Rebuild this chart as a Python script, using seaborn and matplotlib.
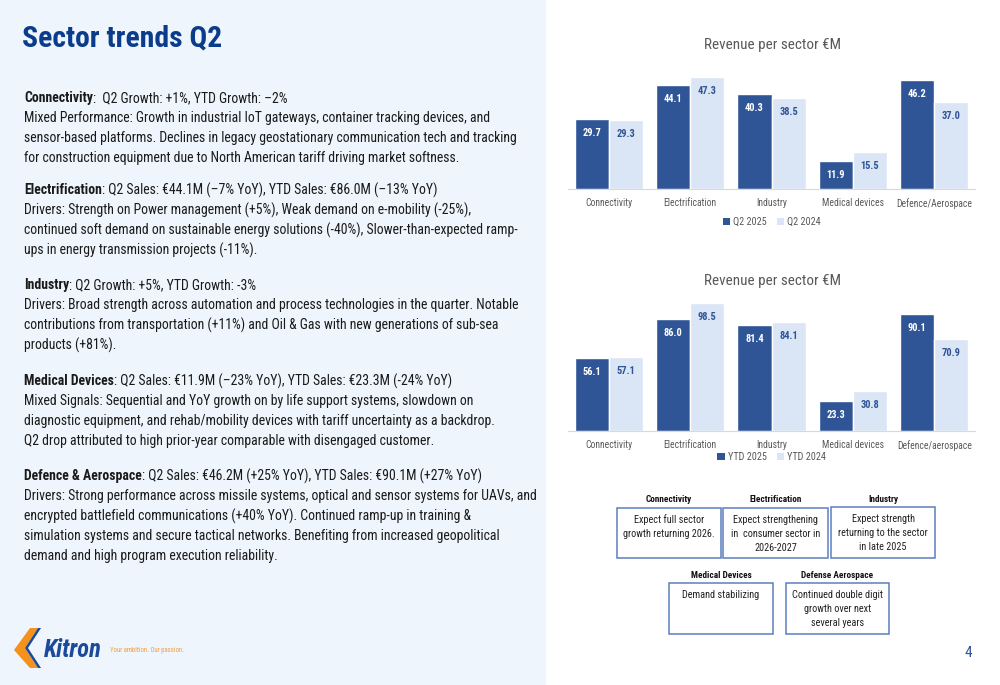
import matplotlib
matplotlib.use("Agg")
import matplotlib.pyplot as plt
import seaborn as sns
import pandas as pd
from matplotlib.patches import Rectangle, Polygon
from matplotlib import font_manager

# ---------------- data ----------------
sectors_q2 = ["Connectivity", "Electrification", "Industry", "Medical devices", "Defence/Aerospace"]
q2_2025 = [29.7, 44.1, 40.3, 11.9, 46.2]
q2_2024 = [29.3, 47.3, 38.5, 15.5, 37.0]
q2_series = ["Q2 2025", "Q2 2024"]

sectors_ytd = ["Connectivity", "Electrification", "Industry", "Medical devices", "Defence/aerospace"]
ytd_2025 = [56.1, 86.0, 81.4, 23.3, 90.1]
ytd_2024 = [57.1, 98.5, 84.1, 30.8, 70.9]
ytd_series = ["YTD 2025", "YTD 2024"]

chart_title = "Revenue per sector €M"
page_title = "Sector trends Q2"

paragraphs = [
    ("Connectivity", ":  Q2 Growth: +1%, YTD Growth: –2%", [
        "Mixed Performance: Growth in industrial IoT gateways, container tracking devices, and",
        "sensor-based platforms. Declines in legacy geostationary communication tech and tracking",
        "for construction equipment due to North American tariff driving market softness."]),
    ("Electrification", ": Q2 Sales: €44.1M (–7% YoY), YTD Sales: €86.0M (–13% YoY)", [
        "Drivers: Strength on Power management (+5%), Weak demand on e-mobility (-25%),",
        "continued soft demand on sustainable energy solutions (-40%), Slower-than-expected ramp-",
        "ups in energy transmission projects (-11%)."]),
    ("Industry", ": Q2 Growth: +5%, YTD Growth: -3%", [
        "Drivers: Broad strength across automation and process technologies in the quarter. Notable",
        "contributions from transportation (+11%) and Oil & Gas with new generations of sub-sea",
        "products (+81%)."]),
    ("Medical Devices", ": Q2 Sales: €11.9M (–23% YoY), YTD Sales: €23.3M (-24% YoY)", [
        "Mixed Signals: Sequential and YoY growth on by life support systems, slowdown on",
        "diagnostic equipment, and rehab/mobility devices with tariff uncertainty as a backdrop.",
        "Q2 drop attributed to high prior-year comparable with disengaged customer."]),
    ("Defence & Aerospace", ": Q2 Sales: €46.2M (+25% YoY), YTD Sales: €90.1M (+27% YoY)", [
        "Drivers: Strong performance across missile systems, optical and sensor systems for UAVs, and",
        "encrypted battlefield communications (+40% YoY). Continued ramp-up in training &",
        "simulation systems and secure tactical networks. Benefiting from increased geopolitical",
        "demand and high program execution reliability."]),
]
para_y = [98, 190, 285, 381, 476]

outlook_heads = ["Connectivity", "Electrification", "Industry", "Medical Devices", "Defense Aerospace"]
outlook_texts = [
    ["Expect full sector", "growth returning 2026."],
    ["Expect strengthening", "in  consumer sector in", "2026-2027"],
    ["Expect strength", "returning to the sector", "in late 2025"],
    ["Demand stabilizing"],
    ["Continued double digit", "growth over next", "several years"],
]

# ---------------- style ----------------
sns.set_style("white")
avail = {f.name for f in font_manager.fontManager.ttflist}
BODY = "DejaVu Sans"
for cand in ["Liberation Sans Narrow", "Roboto Condensed", "Open Sans Condensed", "Lato", "Roboto"]:
    if cand in avail:
        BODY = cand
        break
plt.rcParams["font.family"] = [BODY, "DejaVu Sans"]

DARK = "#2F5597"
LIGHT = "#DAE6F5"
GRAY = "#595959"
TITLE_BLUE = "#0B3C8C"

W, H = 1000, 685
fig = plt.figure(figsize=(10, 6.85), dpi=100)
renderer = fig.canvas.get_renderer()


def fx(x):
    return x / W


def fy(y):
    return 1 - y / H


def fit(text, target, weight="normal", style="normal", ref=10):
    t = fig.text(0, 0, text, fontsize=ref, fontweight=weight, fontstyle=style)
    w = t.get_window_extent(renderer).width
    t.remove()
    return ref * target / w


# background panels
fig.patches.append(Rectangle((0, 0), fx(546), 1, transform=fig.transFigure,
                             facecolor="#EEF5FC", edgecolor="none", zorder=0))

# ---------------- left text ----------------
fig.text(fx(22), fy(38), page_title, fontsize=fit(page_title, 200, "bold"),
         fontweight="bold", color=TITLE_BLUE, va="center", ha="left")

fs_body = fit("Drivers: Strong performance across missile systems, optical and sensor systems for UAVs, and", 511)
TXT = "#1A1A1A"
for (head, rest, lines), y0 in zip(paragraphs, para_y):
    t = fig.text(fx(24), fy(y0), head, fontsize=fs_body, fontweight="bold", color=TXT,
                 va="center", ha="left")
    bb = t.get_window_extent(renderer)
    fig.text(bb.x1 / W, fy(y0), rest, fontsize=fs_body, color=TXT, va="center", ha="left")
    for i, ln in enumerate(lines):
        fig.text(fx(24), fy(y0 + 20 * (i + 1)), ln, fontsize=fs_body, color=TXT,
                 va="center", ha="left")

# ---------------- charts ----------------
fs_tick = fit("Defence/Aerospace", 75)
fs_title = fit(chart_title, 136)
fs_lab = fit("47.3", 19, "bold")
fs_leg = fit("Q2 2025", 33)


def bar_chart(top, base, ymax, sectors, s1, s2, names, leg_y):
    ax = fig.add_axes([fx(568), fy(base), (975 - 568) / W, (base - top) / H])
    df = pd.DataFrame({"sector": sectors * 2, "value": s1 + s2,
                       "series": [names[0]] * len(s1) + [names[1]] * len(s2)})
    sns.barplot(data=df, x="sector", y="value", hue="series", palette=[DARK, LIGHT],
                saturation=1, width=0.84, edgecolor="white", linewidth=1.0,
                errorbar=None, ax=ax)
    ax.set_ylim(0, ymax)
    ax.set_xlim(-0.5, len(sectors) - 0.5)
    ax.set_xlabel("")
    ax.set_ylabel("")
    ax.set_yticks([])
    for s in ["top", "right", "left"]:
        ax.spines[s].set_visible(False)
    ax.spines["bottom"].set_color("#D9D9D9")
    ax.spines["bottom"].set_zorder(5)
    ax.tick_params(axis="x", length=0, pad=6.5, labelsize=fs_tick, labelcolor=GRAY)
    ax.set_facecolor("none")
    for cont, col in zip(ax.containers, ["white", DARK]):
        for bar in cont:
            h = bar.get_height()
            ax.annotate(f"{h:.1f}", (bar.get_x() + bar.get_width() / 2, h),
                        xytext=(0, -10), textcoords="offset points", ha="center",
                        va="center", fontsize=fs_lab, fontweight="bold", color=col)
    leg = ax.legend(loc="center", bbox_to_anchor=(0.5, (base - leg_y) / (base - top)),
                    ncol=2, frameon=False, fontsize=fs_leg, handlelength=0.7,
                    handleheight=0.7, handletextpad=0.3, columnspacing=1.0,
                    labelcolor=GRAY)
    for hnd in leg.legend_handles:
        hnd.set_edgecolor("none")
    return ax


bar_chart(71, 189, 50, sectors_q2, q2_2025, q2_2024, q2_series, 222)
fig.text(fx(772), fy(45), chart_title, fontsize=fs_title, color=GRAY, ha="center", va="center")

bar_chart(301, 431, 100, sectors_ytd, ytd_2025, ytd_2024, ytd_series, 457)
fig.text(fx(772), fy(281), chart_title, fontsize=fs_title, color=GRAY, ha="center", va="center")

# ---------------- outlook boxes ----------------
box_px = [(617, 508, 721, 558), (723, 508, 828, 558), (831, 507, 935, 558),
          (669, 583, 773, 634), (786, 583, 889, 634)]
fs_head = fit("Electrification", 52, "bold")
fs_box = fit("growth returning 2026.", 91)
for head, lines, (x0, y0, x1, y1) in zip(outlook_heads, outlook_texts, box_px):
    fig.patches.append(Rectangle((fx(x0), fy(y1)), (x1 - x0) / W, (y1 - y0) / H,
                                 transform=fig.transFigure, facecolor="white",
                                 edgecolor="#5B7FBE", linewidth=1.1, zorder=2))
    cx = (x0 + x1) / 2
    fig.text(fx(cx), fy(y0 - 8), head, fontsize=fs_head, fontweight="bold",
             color="#111111", ha="center", va="center")
    for i, ln in enumerate(lines):
        fig.text(fx(cx), fy(y0 + 12 + 14 * i), ln, fontsize=fs_box, color="#222222",
                 ha="center", va="center", zorder=3)

# ---------------- footer ----------------
orange = Polygon([(fx(30), fy(628)), (fx(38), fy(628)), (fx(25), fy(648)),
                  (fx(38), fy(668)), (fx(30), fy(668)), (fx(14), fy(650))],
                 closed=True, transform=fig.transFigure, facecolor="#F5921E",
                 edgecolor="none", zorder=3)
blue = Polygon([(fx(38), fy(628)), (fx(41), fy(628)), (fx(28), fy(648)),
                (fx(41), fy(668)), (fx(38), fy(668)), (fx(25), fy(648))],
               closed=True, transform=fig.transFigure, facecolor="#1B4A9A",
               edgecolor="none", zorder=3)
fig.patches.extend([orange, blue])
fig.text(fx(44), fy(650), "Kitron", fontsize=fit("Kitron", 58, "bold", "italic"),
         fontweight="bold", fontstyle="italic", color="#1B4A9A", ha="left", va="center")
fig.text(fx(110), fy(651), "Your ambition. Our passion.",
         fontsize=fit("Your ambition. Our passion.", 74), color="#F39C3A",
         ha="left", va="center")
fig.text(fx(968), fy(653), "4", fontsize=11, color=DARK, ha="center", va="center")

fig.savefig("out.png", dpi=100)
